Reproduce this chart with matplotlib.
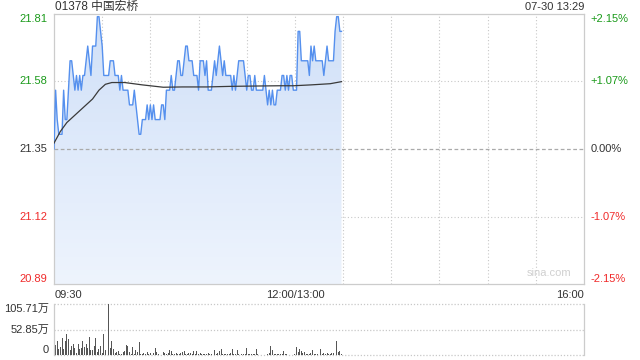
import numpy as np
import matplotlib
matplotlib.use("Agg")
from matplotlib import pyplot as plt

plt.rcParams['font.family'] = ['Liberation Sans', 'Noto Sans CJK SC']

# ---- data ----
title = "01378 中国宏桥"
stamp = "07-30 13:29"
prev_close = 21.35
price_ticks = [21.81, 21.58, 21.35, 21.12, 20.89]
pct_labels = ["+2.15%", "+1.07%", "0.00%", "-1.07%", "-2.15%"]
time_labels = ["09:30", "12:00/13:00", "16:00"]
vol_labels = ["105.71万", "52.85万", "0"]

# minute-by-minute price, 09:30 .. 13:29
price = [21.35, 21.55, 21.45, 21.40, 21.40, 21.40, 21.55, 21.45, 21.45, 21.55,
         21.65, 21.65, 21.60, 21.55, 21.60, 21.55, 21.60, 21.55, 21.60, 21.60,
         21.65, 21.70, 21.65, 21.60, 21.70, 21.70, 21.70, 21.80, 21.80, 21.75,
         21.70, 21.60, 21.60, 21.60, 21.60, 21.65, 21.65, 21.65, 21.60, 21.60,
         21.60, 21.55, 21.60, 21.55, 21.55, 21.55, 21.55, 21.50, 21.50, 21.50,
         21.55, 21.50, 21.45, 21.40, 21.40, 21.45, 21.45, 21.45, 21.50, 21.45,
         21.50, 21.45, 21.50, 21.45, 21.45, 21.45, 21.45, 21.50, 21.50, 21.45,
         21.55, 21.55, 21.55, 21.60, 21.55, 21.55, 21.60, 21.65, 21.65, 21.60,
         21.60, 21.65, 21.70, 21.70, 21.65, 21.65, 21.65, 21.60, 21.60, 21.60,
         21.55, 21.65, 21.65, 21.65, 21.60, 21.65, 21.55, 21.55, 21.55, 21.60,
         21.65, 21.60, 21.65, 21.70, 21.65, 21.60, 21.65, 21.60, 21.60, 21.60,
         21.60, 21.55, 21.60, 21.55, 21.60, 21.65, 21.65, 21.65, 21.65, 21.60,
         21.55, 21.60, 21.60, 21.55, 21.55, 21.60, 21.55, 21.55, 21.55, 21.55,
         21.55, 21.60, 21.55, 21.50, 21.55, 21.50, 21.55, 21.50, 21.50, 21.55,
         21.55, 21.55, 21.60, 21.60, 21.55, 21.60, 21.55, 21.60, 21.60, 21.55,
         21.55, 21.55, 21.75, 21.75, 21.65, 21.65, 21.65, 21.65, 21.65, 21.60,
         21.70, 21.65, 21.70, 21.65, 21.65, 21.65, 21.65, 21.65, 21.60, 21.65,
         21.70, 21.65, 21.65, 21.65, 21.65, 21.75, 21.80, 21.80, 21.75, 21.75]

# average price line at these minutes
avg_min = [0, 2, 4, 6, 8, 10, 12, 14, 16, 18, 20, 22, 24, 26, 28, 30, 32, 36,
           44, 55, 68, 80, 95, 110, 124, 140, 149, 160, 172, 179]
avg_val = [21.37, 21.39, 21.41, 21.425, 21.44, 21.45, 21.46, 21.47, 21.48,
           21.49, 21.50, 21.51, 21.52, 21.535, 21.55, 21.56, 21.57, 21.576,
           21.576, 21.568, 21.56, 21.561, 21.561, 21.563, 21.564, 21.565, 21.565,
           21.568, 21.572, 21.579]

# volume per minute, in 万 shares
volume = [36, 20, 28, 12, 17, 36, 12, 28, 43, 33,
          10, 18, 22, 15, 5, 22, 12, 15, 28, 16,
          22, 14, 38, 10, 10, 19, 36, 7, 12, 19,
          5, 43, 10, 19, 105.7, 15, 28, 12, 5, 7,
          8, 3, 3, 7, 8, 21, 19, 7, 3, 17,
          3, 10, 6, 26, 3, 2, 4, 3, 7, 3,
          4, 1, 5, 14, 7, 3, 4, 1, 6, 5,
          3, 4, 10, 9, 3, 2, 4, 3, 3, 4,
          6, 8, 3, 2, 4, 5, 2, 8, 3, 8,
          3, 5, 3, 2, 2, 2, 5, 2, 2, 2,
          10, 3, 4, 8, 12, 3, 3, 3, 3, 3,
          5, 12, 3, 3, 10, 2, 1, 2, 3, 2,
          15, 2, 2, 2, 2, 2, 12, 3, 1, 1,
          1, 1, 2, 3, 4, 19, 10, 2, 2, 3,
          2, 2, 2, 8, 3, 2, 1, 1, 1, 1,
          2, 16, 7, 12, 8, 4, 7, 3, 2, 2,
          4, 10, 2, 2, 2, 2, 12, 3, 4, 2,
          5, 2, 2, 5, 4, 1, 29, 7, 8, 2]

minutes = np.arange(len(price))
price = np.array(price)
volume = np.array(volume)

green = "#1a9a1a"
red = "#f02a2a"
dark = "#333333"
gridc = "#c8c8c8"

fig = plt.figure(figsize=(6.4, 3.6), dpi=100)
ax = fig.add_axes([54 / 640, 1 - 284 / 360, 530 / 640, 270 / 360])
axv = fig.add_axes([54 / 640, 1 - 355 / 360, 530 / 640, 51 / 360])

ymin, ymax = 20.891, 21.809
ax.set_xlim(0, 330)
ax.set_ylim(ymin, ymax)

# gradient fill under the price line
grad = np.linspace(0, 1, 256).reshape(-1, 1)
cmap = matplotlib.colors.LinearSegmentedColormap.from_list("g", ["#eef4fd", "#d0e0f8"])
img = ax.imshow(grad, extent=[0, 330, ymin, ymax], origin="lower", aspect="auto",
                cmap=cmap, zorder=1)
clip = matplotlib.path.Path(np.vstack([[minutes[0], ymin], np.column_stack([minutes, price]),
                                       [minutes[-1], ymin]]))
img.set_clip_path(matplotlib.patches.PathPatch(clip, transform=ax.transData))

ax.plot(minutes, price, color="#5590ee", lw=1.0, zorder=3)
ax.plot(avg_min, avg_val, color="#3a3a3a", lw=0.9, zorder=4)

# grid
for t in range(30, 330, 30):
    ax.axvline(t, color=gridc, lw=0.8, ls=(0, (1, 2)), zorder=0)
for p in [price_ticks[1], price_ticks[3]]:
    ax.axhline(p, color=gridc, lw=0.8, ls=(0, (1, 2)), zorder=0)
ax.axhline(prev_close, color="#aaaaaa", lw=0.9, ls=(0, (3, 2)), zorder=2)

ax.set_xticks([])
ax.set_yticks([])
for s in ax.spines.values():
    s.set_color("#cccccc")
    s.set_linewidth(0.9)

# edge labels sit inside the panel, the others centred on their line
colors = [green, green, dark, red, red]
valigns = ["top", "center", "center", "center", "bottom"]
for p, pl, c, va in zip(price_ticks, pct_labels, colors, valigns):
    y = min(max(p, ymin), ymax)
    ax.text(-4, y, "%.2f" % p, color=c, fontsize=8, ha="right", va=va,
            clip_on=False)
    ax.text(334, y, pl, color=c, fontsize=8, ha="left", va=va, clip_on=False)

fig.text(55 / 640, 1 - 7 / 360, title, fontsize=8.5, color=dark, ha="left",
         va="center")
fig.text(584 / 640, 1 - 7 / 360, stamp, fontsize=8, color=dark, ha="right",
         va="center")
ax.text(322, ymin + 0.02, "sina.com", fontsize=8, color="#d0d0d0", ha="right",
        va="bottom")

ax.text(0.5, ymin - 0.02, time_labels[0], fontsize=8, color=dark, ha="left", va="top",
        clip_on=False)
ax.text(150, ymin - 0.02, time_labels[1], fontsize=8, color=dark, ha="center", va="top",
        clip_on=False)
ax.text(330, ymin - 0.02, time_labels[2], fontsize=8, color=dark, ha="right", va="top",
        clip_on=False)

# volume panel
vmax = 105.71
axv.bar(minutes, volume, width=0.6, color="#555555", zorder=2)
axv.set_xlim(0, 330)
axv.set_ylim(0, vmax)
for v in [vmax, vmax / 2, 0]:
    axv.axhline(v, color=gridc, lw=0.9, ls=(0, (1, 1.5)), zorder=0, clip_on=False)
axv.set_xticks([])
axv.set_yticks([])
for k in ["top", "bottom"]:
    axv.spines[k].set_visible(False)
for k in ["left", "right"]:
    axv.spines[k].set_color("#cccccc")
    axv.spines[k].set_linewidth(0.9)
for v, lab, va in zip([vmax, vmax / 2, 0], vol_labels, ["top", "center", "bottom"]):
    axv.text(-3, v, lab, fontsize=8, color=dark, ha="right", va=va, clip_on=False)

fig.savefig("out.png", dpi=100)
